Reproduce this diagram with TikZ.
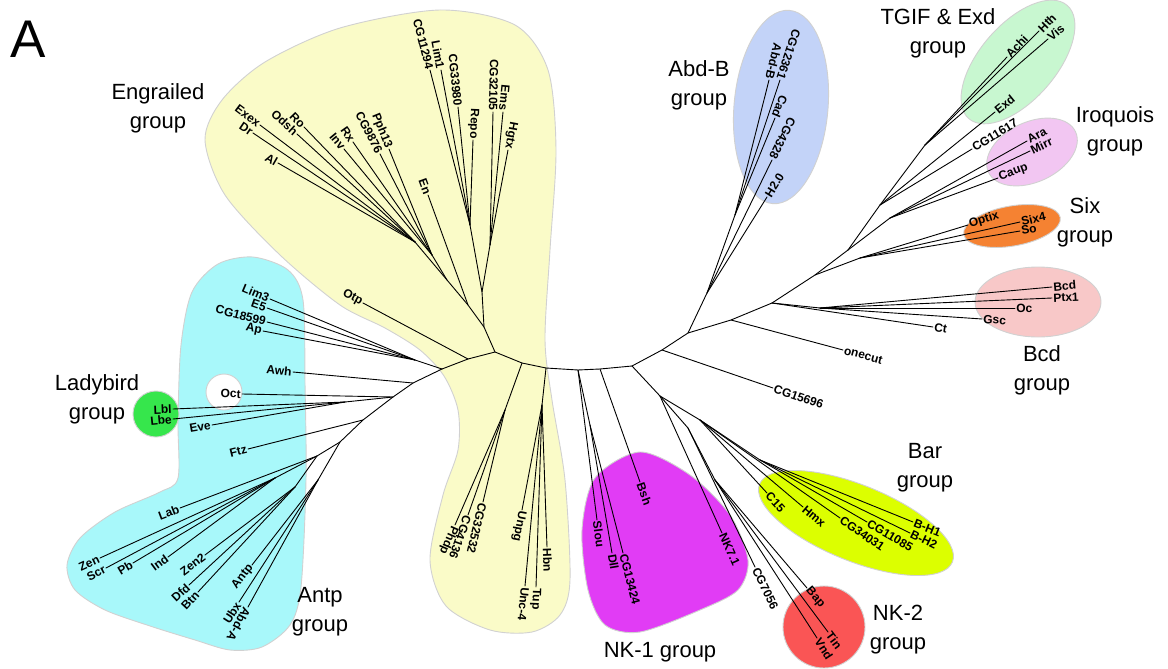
\documentclass[tikz,border=0pt]{standalone}
\usepackage{fontspec}
\setmainfont{Liberation Sans}
\usetikzlibrary{calc}
\definecolor{engyellow}{HTML}{FAFBC8}
\definecolor{antpcyan}{HTML}{A8F8FA}
\definecolor{lbgreen}{HTML}{36E64C}
\definecolor{abdblue}{HTML}{C3D3F8}
\definecolor{tgifgreen}{HTML}{C8F7D0}
\definecolor{iropink}{HTML}{F2C6F2}
\definecolor{sixorange}{HTML}{F58232}
\definecolor{bcdpink}{HTML}{F8C8C8}
\definecolor{nkmagenta}{HTML}{E13CF5}
\definecolor{baryellow}{HTML}{DCFF00}
\definecolor{nkred}{HTML}{FA5555}
\tikzset{
  branch/.style={line width=0.9pt, line cap=round},
  leaflbl/.style={font=\fontsize{12}{12}\selectfont\bfseries, inner sep=1.2pt},
  grouplbl/.style={font=\fontsize{22}{29}\selectfont, align=center},
  blob/.style={draw=black!18, line width=0.9pt},
}
% leaf: parent, name, end point, text (outward / inward reading)
\newcommand{\leafout}[4]{%
  \coordinate (#2) at #3;
  \draw[branch] (#1) -- (#2);
  \path let \p1=($(#2)-(#1)$), \n1={atan2(\y1,\x1)} in
    (#2) node[leaflbl, anchor=west, rotate=\n1] (#2-lbl) {#4};}
\newcommand{\leafin}[4]{%
  \coordinate (#2) at #3;
  \draw[branch] (#1) -- (#2);
  \path let \p1=($(#2)-(#1)$), \n1={atan2(\y1,\x1)} in
    (#2) node[leaflbl, anchor=east, rotate=\n1+180] (#2-lbl) {#4};}

\begin{document}
\begin{tikzpicture}[x=1pt,y=-1pt]
  \useasboundingbox (0,0) rectangle (1168,669);

  % group areas
  \filldraw[blob, fill=engyellow] plot[smooth cycle] coordinates {
    (205,140) (222,100) (265,62) (340,28) (440,10) (515,25) (548,70)
    (556,150) (550,250) (545,340) (552,400) (565,480) (570,580)
    (560,615) (532,632) (490,630) (446,606) (430,560) (443,495)
    (458,450) (458,410) (444,376) (420,350) (385,328) (340,305)
    (280,255) (225,195)};
  \filldraw[blob, fill=antpcyan] plot[smooth cycle] coordinates {
    (253,257) (288,270) (303,300) (305,383) (306,480) (301,587)
    (290,625) (262,647) (230,650) (195,640) (150,626) (105,610)
    (75,590) (67,565) (80,538) (115,512) (160,492) (178,478)
    (178,420) (181,345) (192,292) (218,264)};
  \filldraw[blob, fill=nkmagenta] plot[smooth cycle] coordinates {
    (640,452) (690,475) (730,515) (748,560) (738,590) (700,610)
    (640,632) (605,625) (588,590) (582,530) (595,478)};
  \filldraw[blob, fill=abdblue, rotate around={-5:(781,107)}]
    (781,107) ellipse [x radius=47, y radius=97];
  \filldraw[blob, fill=tgifgreen, rotate around={49:(1018,62)}]
    (1018,62) ellipse [x radius=75, y radius=38];
  \filldraw[blob, fill=iropink, rotate around={25:(1032,152)}]
    (1032,152) ellipse [x radius=48, y radius=30];
  \filldraw[blob, fill=sixorange, rotate around={10:(1012,226)}]
    (1012,226) ellipse [x radius=49, y radius=20];
  \filldraw[blob, fill=bcdpink] (1038,302) ellipse [x radius=63, y radius=35];
  \filldraw[blob, fill=baryellow, rotate around={-22:(856,523)}]
    (856,523) ellipse [x radius=104, y radius=38];
  \filldraw[blob, fill=nkred] (824,627) circle (41);
  \filldraw[blob, fill=lbgreen] (156,414) circle (23);
  \filldraw[blob, fill=white] (224,392) circle (18);

  % inner nodes
  \coordinate (r1) at (442,369);
  \coordinate (r2) at (468,359);
  \coordinate (r3) at (495,352);
  \coordinate (r4) at (522,363);
  \coordinate (r5) at (546,368);
  \coordinate (r6) at (578,370);
  \coordinate (r7) at (600,369);
  \coordinate (r8) at (632,366);
  \coordinate (r9) at (662,350);
  \coordinate (r10) at (688,333);
  \coordinate (r11) at (731,320);
  \coordinate (r12) at (772,303);
  \coordinate (r13) at (815,275);
  \coordinate (r14) at (848,250);

  \coordinate (aL) at (415,360);
  \coordinate (a1) at (413,383);
  \coordinate (a2) at (393,397);
  \coordinate (aLb) at (345,402);
  \coordinate (a3) at (363,420);
  \coordinate (a4) at (340,442);
  \coordinate (hx1) at (317,456);
  \coordinate (hx1b) at (275,478);
  \coordinate (hx1c) at (295,487);
  \coordinate (hx2) at (318,480);

  \coordinate (e1) at (484,327);
  \coordinate (eR) at (482,292);
  \coordinate (eRa) at (470,225);
  \coordinate (eRb) at (490,245);
  \coordinate (eL) at (468,305);
  \coordinate (eL2) at (447,280);
  \coordinate (eLa) at (415,242);
  \coordinate (eLb) at (432,255);

  \coordinate (ly1) at (505,410);
  \coordinate (ly2) at (542,405);
  \coordinate (nk1a) at (590,425);
  \coordinate (nkA) at (660,396);
  \coordinate (nkB) at (688,428);
  \coordinate (nk2) at (715,480);
  \coordinate (barA) at (700,420);
  \coordinate (barB) at (760,460);

  \coordinate (ab1) at (707,293);
  \coordinate (ab2) at (735,215);
  \coordinate (bc1) at (820,308);
  \coordinate (sx1) at (860,258);
  \coordinate (iq1) at (890,218);
  \coordinate (tg1) at (880,205);
  \coordinate (tg2) at (925,145);

  \draw[branch] (r1) -- (r2) -- (r3) -- (r4) -- (r5) -- (r6) -- (r7) -- (r8)
    -- (r9) -- (r10) -- (r11) -- (r12) -- (r13) -- (r14);
  \draw[branch] (r1) -- (aL);
  \draw[branch] (r1) -- (a1) -- (a2) -- (a3) -- (a4) -- (hx1) -- (hx1b);
  \draw[branch] (hx1) -- (hx1c);
  \draw[branch] (a4) -- (hx2);
  \draw[branch] (a2) -- (aLb);
  \draw[branch] (r3) -- (e1) -- (eR) -- (eRa);
  \draw[branch] (eR) -- (eRb);
  \draw[branch] (e1) -- (eL) -- (eL2) -- (eLa);
  \draw[branch] (eL2) -- (eLb);
  \draw[branch] (r4) -- (ly1);
  \draw[branch] (r5) -- (ly2);
  \draw[branch] (r6) -- (nk1a);
  \draw[branch] (r8) -- (nkA) -- (nkB) -- (nk2);
  \draw[branch] (nkA) -- (barA) -- (barB);
  \draw[branch] (r10) -- (ab1) -- (ab2);
  \draw[branch] (r12) -- (bc1);
  \draw[branch] (r13) -- (sx1);
  \draw[branch] (r14) -- (iq1);
  \draw[branch] (r14) -- (tg1) -- (tg2);

  % Engrailed
  \leafin{eLa}{exex}{(260,125)}{Exex}
  \leafin{eLa}{dr}{(253,133)}{Dr}
  \leafin{eLa}{al}{(278,163)}{Al}
  \leafin{eLa}{ro}{(304,127)}{Ro}
  \leafin{eLa}{odsh}{(297,134)}{Odsh}
  \leafin{eLb}{rx}{(353,142)}{Rx}
  \leafin{eLb}{inv}{(344,149)}{Inv}
  \leafin{eLb}{pph13}{(389,149)}{Pph13}
  \leafin{eLb}{cg9876}{(380,154)}{CG9876}
  \leafin{eL}{en}{(428,195)}{En}
  \leafin{eRa}{cg11294}{(430,70)}{CG11294}
  \leafin{eRa}{lim1}{(441,70)}{Lim1}
  \leafin{eRa}{cg33980}{(458,107)}{CG33980}
  \leafin{eRa}{repo}{(473,140)}{Repo}
  \leafin{eRb}{cg32105}{(493,112)}{CG32105}
  \leafin{eRb}{ems}{(503,112)}{Ems}
  \leafin{eRb}{hgtx}{(508,150)}{Hgtx}
  \leafin{r2}{otp}{(363,303)}{Otp}

  % Antp and Ladybird
  \leafin{aL}{lim3}{(270,299)}{Lim3}
  \leafin{aL}{e5}{(267,308)}{E5}
  \leafin{aL}{cg18599}{(267,322)}{CG18599}
  \leafin{aL}{ap}{(263,331)}{Ap}
  \leafin{a1}{awh}{(293,372)}{Awh}
  \leafin{a2}{oct}{(242,394)}{Oct}
  \leafin{aLb}{lbl}{(173,409)}{Lbl}
  \leafin{aLb}{lbe}{(173,419)}{Lbe}
  \leafin{aLb}{eve}{(212,425)}{Eve}
  \leafin{a3}{ftz}{(248,449)}{Ftz}
  \leafin{hx1}{lab}{(180,508)}{Lab}
  \leafin{hx1b}{zen}{(100,558)}{Zen}
  \leafin{hx1b}{scr}{(106,568)}{Scr}
  \leafin{hx1b}{pb}{(133,563)}{Pb}
  \leafin{hx1b}{ind}{(168,557)}{Ind}
  \leafin{hx1c}{zen2}{(205,555)}{Zen2}
  \leafin{hx1c}{dfd}{(189,585)}{Dfd}
  \leafin{hx1c}{btn}{(198,592)}{Btn}
  \leafin{hx2}{antp}{(252,565)}{Antp}
  \leafin{hx2}{ubx}{(239,602)}{Ubx}
  \leafout{hx2}{abda}{(248,607)}{Abd-A}

  % lower Engrailed and NK-1
  \leafout{ly1}{cg32532}{(483,502)}{CG32532}
  \leafout{ly1}{cg4136}{(468,515)}{CG4136}
  \leafout{ly1}{phdp}{(455,525)}{Phdp}
  \leafout{ly2}{unpg}{(522,510)}{Unpg}
  \leafout{ly2}{unc4}{(525,586)}{Unc-4}
  \leafout{ly2}{tup}{(536,587)}{Tup}
  \leafout{ly2}{hbn}{(547,547)}{Hbn}
  \leafout{r6}{slou}{(597,520)}{Slou}
  \leafout{nk1a}{dll}{(612,553)}{Dll}
  \leafout{nk1a}{cg13424}{(623,553)}{CG13424}
  \leafout{r7}{bsh}{(640,482)}{Bsh}

  % NK-2 and Bar
  \leafout{nkA}{nk71}{(722,533)}{NK7.1}
  \leafout{nkB}{cg7056}{(755,567)}{CG7056}
  \leafout{nk2}{bap}{(807,588)}{Bap}
  \leafout{nk2}{tin}{(828,632)}{Tin}
  \leafout{nk2}{vnd}{(817,638)}{Vnd}
  \leafout{barA}{c15}{(767,493)}{C15}
  \leafout{barA}{hmx}{(803,507)}{Hmx}
  \leafout{barA}{cg34031}{(840,518)}{CG34031}
  \leafout{barB}{cg11085}{(867,522)}{CG11085}
  \leafout{barB}{bh1}{(913,522)}{B-H1}
  \leafout{barB}{bh2}{(910,533)}{B-H2}

  % right side
  \leafout{r9}{cg15696}{(773,388)}{CG15696}
  \leafout{r11}{onecut}{(843,350)}{onecut}
  \leafout{ab1}{h20}{(767,197)}{H2.0}
  \leafin{ab1}{cg4328}{(772,160)}{CG4328}
  \leafin{ab2}{cad}{(775,118)}{Cad}
  \leafin{ab2}{abdb}{(769,80)}{Abd-B}
  \leafin{ab2}{cg12361}{(780,80)}{CG12361}
  \leafout{r12}{ct}{(933,327)}{Ct}
  \leafout{bc1}{gsc}{(982,319)}{Gsc}
  \leafout{bc1}{oc}{(1015,308)}{Oc}
  \leafout{bc1}{bcd}{(1052,287)}{Bcd}
  \leafout{bc1}{ptx1}{(1052,298)}{Ptx1}
  \leafout{sx1}{optix}{(968,225)}{Optix}
  \leafout{sx1}{six4}{(1020,222)}{Six4}
  \leafout{sx1}{so}{(1020,231)}{So}
  \leafout{iq1}{caup}{(998,178)}{Caup}
  \leafout{iq1}{ara}{(1027,141)}{Ara}
  \leafout{iq1}{mirr}{(1030,151)}{Mirr}
  \leafout{tg1}{cg11617}{(972,149)}{CG11617}
  \leafout{tg1}{exd}{(995,112)}{Exd}
  \leafout{tg2}{achi}{(1007,57)}{Achi}
  \leafout{tg2}{hth}{(1039,31)}{Hth}
  \leafout{tg2}{vis}{(1048,39)}{Vis}

  % group names
  \node[font=\fontsize{53}{53}\selectfont] (panel) at (28,39) {A};
  \node[grouplbl] (englbl) at (158,108) {Engrailed\\group};
  \node[grouplbl] (abdlbl) at (699,85) {Abd-B\\group};
  \node[grouplbl] (tgiflbl) at (938,33) {TGIF \& Exd\\group};
  \node[grouplbl] (irolbl) at (1115,131) {Iroquois\\group};
  \node[grouplbl] (sixlbl) at (1085,222) {Six\\group};
  \node[grouplbl] (bcdlbl) at (1042,370) {Bcd\\group};
  \node[grouplbl] (barlbl) at (925,468) {Bar\\group};
  \node[grouplbl] (nk2lbl) at (898,630) {NK-2\\group};
  \node[grouplbl] (nk1lbl) at (660,652) {NK-1 group};
  \node[grouplbl] (antplbl) at (320,612) {Antp\\group};
  \node[grouplbl] (lblbl) at (97,399) {Ladybird\\group};
\end{tikzpicture}
\end{document}
